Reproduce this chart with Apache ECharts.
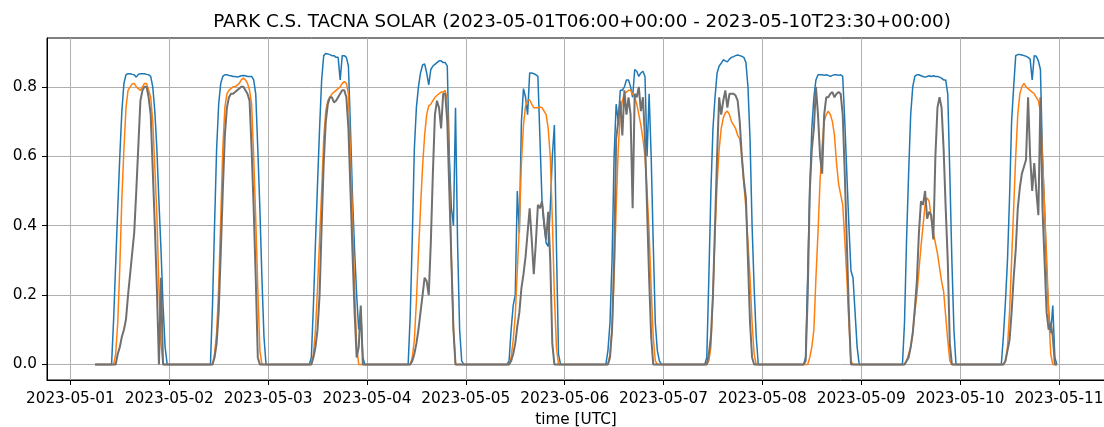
<!DOCTYPE html>
<html>
<head>
<meta charset="utf-8">
<script src="https://cdn.jsdelivr.net/npm/echarts@6/dist/echarts.min.js"></script>
<style>
  html, body { margin: 0; padding: 0; background: #fff; }
  #chart { width: 1104px; height: 427px; }
</style>
</head>
<body>
<div id="chart"></div>
<script>
// half-hourly values from 10:00 to 23:30 UTC for each day (2023-05-01 .. 2023-05-10)
// outside that window every series sits at 0
const firstHour = 10;

const potential = [
  [0,.13,.29,.45,.60,.73,.81,.835,.838,.838,.836,.835,.828,.836,.838,.838,.838,.836,.835,.83,.80,.73,.62,.47,.33,.17,.05,0],
  [0,.17,.40,.62,.75,.81,.83,.835,.835,.833,.832,.83,.83,.828,.83,.832,.833,.832,.83,.83,.83,.82,.78,.62,.45,.25,.08,0],
  [0,.02,.17,.35,.52,.68,.82,.89,.896,.895,.893,.89,.89,.885,.885,.82,.89,.89,.885,.86,.68,.48,.33,.2,.1,.16,.02,0],
  [0,.14,.36,.62,.74,.80,.84,.863,.866,.84,.806,.85,.86,.865,.87,.875,.875,.87,.87,.86,.6,.45,.4,.74,.35,.1,.01,0],
  [0,.01,.1,.17,.2,.5,.38,.7,.795,.77,.72,.84,.84,.838,.835,.83,.65,.47,.4,.35,.34,.45,.6,.69,.34,.03,0,0],
  [0,.04,.12,.3,.6,.75,.7,.79,.79,.8,.82,.82,.8,.77,.85,.845,.83,.84,.845,.83,.6,.78,.6,.35,.12,.04,.01,0],
  [0,.02,.25,.5,.68,.77,.84,.86,.868,.878,.875,.872,.88,.885,.887,.89,.892,.89,.888,.885,.87,.8,.65,.4,.22,.08,0,0],
  [0,.02,.26,.5,.68,.77,.82,.835,.835,.835,.833,.835,.833,.83,.833,.835,.835,.833,.835,.83,.7,.55,.4,.27,.25,.15,.05,0],
  [0,.12,.36,.55,.72,.8,.83,.835,.835,.832,.83,.828,.83,.832,.83,.832,.83,.83,.828,.825,.82,.82,.78,.55,.3,.1,0,0],
  [0,.08,.18,.3,.48,.7,.8,.89,.893,.893,.892,.89,.888,.885,.88,.82,.89,.888,.875,.85,.6,.45,.27,.15,.09,.17,.02,0]
];

const forecast = [
  [0,0,.03,.12,.28,.48,.62,.74,.79,.80,.808,.81,.80,.795,.79,.80,.81,.81,.79,.77,.70,.57,.43,.22,.06,0,0,0],
  [0,0,.03,.09,.22,.42,.62,.74,.78,.79,.795,.80,.80,.805,.81,.82,.825,.82,.81,.79,.75,.6,.42,.22,.04,0,0,0],
  [0,0,.03,.1,.22,.36,.5,.65,.73,.76,.77,.78,.785,.79,.795,.80,.81,.815,.81,.78,.6,.42,.22,.05,0,0,0,0],
  [0,0,.02,.07,.18,.32,.45,.57,.66,.72,.745,.75,.76,.77,.775,.78,.785,.785,.79,.76,.55,.3,.1,0,0,0,0,0],
  [0,0,.02,.07,.14,.27,.4,.58,.69,.745,.76,.763,.75,.74,.74,.74,.742,.74,.73,.72,.68,.6,.42,.2,.05,0,0,0],
  [0,0,.03,.1,.25,.45,.62,.72,.76,.78,.785,.79,.79,.78,.77,.75,.72,.69,.65,.6,.5,.38,.22,.08,.01,0,0,0],
  [0,0,.01,.05,.2,.38,.52,.62,.68,.71,.725,.73,.72,.70,.69,.68,.66,.65,.6,.52,.45,.35,.25,.12,.03,0,0,0],
  [0,0,0,.02,.05,.1,.25,.38,.53,.63,.7,.72,.73,.72,.7,.66,.58,.52,.49,.46,.36,.25,.12,.01,0,0,0,0],
  [0,0,.01,.03,.05,.09,.15,.2,.27,.34,.4,.46,.48,.47,.42,.38,.35,.32,.28,.24,.21,.14,.07,.01,0,0,0,0],
  [0,0,.01,.05,.15,.3,.45,.6,.72,.78,.8,.81,.80,.795,.79,.785,.78,.77,.76,.73,.6,.45,.31,.15,.03,0,0,0]
];

const actual = [
  [0,0,0,.03,.05,.08,.1,.13,.2,.26,.32,.38,.5,.63,.76,.79,.80,.80,.77,.72,.56,.40,.22,0,.25,0,0,0],
  [0,0,.02,.06,.15,.32,.50,.66,.74,.77,.78,.78,.785,.79,.795,.80,.80,.79,.78,.76,.62,.45,.25,.02,0,0,0,0],
  [0,0,.02,.05,.10,.2,.4,.58,.70,.75,.77,.77,.755,.76,.77,.78,.79,.79,.77,.68,.5,.32,.15,.02,.05,.17,0,0],
  [0,0,.01,.03,.06,.1,.15,.2,.25,.24,.2,.35,.55,.72,.76,.74,.68,.78,.78,.7,.5,.3,.1,0,0,0,0,0],
  [0,0,.01,.03,.06,.11,.15,.22,.26,.31,.38,.45,.36,.26,.35,.46,.45,.47,.41,.36,.44,.3,.06,0,0,0,0,0],
  [0,0,.02,.1,.3,.65,.7,.76,.66,.79,.72,.77,.72,.45,.78,.77,.80,.73,.77,.65,.45,.25,.08,0,0,0,0,0],
  [0,0,.03,.08,.2,.4,.6,.77,.72,.76,.79,.74,.78,.78,.78,.775,.76,.7,.6,.53,.48,.3,.12,.02,0,0,0,0],
  [0,.01,.2,.5,.62,.68,.8,.72,.6,.55,.72,.77,.77,.78,.785,.77,.78,.785,.78,.72,.55,.35,.15,0,0,0,0,0],
  [0,0,.01,.02,.05,.09,.16,.24,.38,.47,.46,.5,.42,.44,.43,.36,.6,.74,.77,.74,.62,.45,.3,.06,0,0,0,0],
  [0,0,.01,.04,.07,.15,.25,.33,.45,.51,.55,.57,.59,.77,.6,.5,.58,.5,.43,.77,.45,.3,.15,.1,.12,.08,0,0]
];

const dayTicks = ['2023-05-01','2023-05-02','2023-05-03','2023-05-04','2023-05-05','2023-05-06',
                  '2023-05-07','2023-05-08','2023-05-09','2023-05-10','2023-05-11'];
const yTicks = [0, 0.2, 0.4, 0.6, 0.8];

const HOUR = 3600 * 1000;
const day0 = Date.UTC(2023, 4, 1);
const tStart = Date.UTC(2023, 4, 1, 6, 0);
const tEnd = Date.UTC(2023, 4, 10, 23, 30);

function buildSeries(days) {
    var out = [];
    for (var t = tStart; t <= tEnd; t += HOUR / 2) {
        var d = Math.floor((t - day0) / (24 * HOUR));
        var h = (t - day0 - d * 24 * HOUR) / HOUR;
        var i = Math.round((h - firstHour) * 2);
        var v = (i >= 0 && i < days[d].length) ? days[d][i] : 0;
        out.push([t, v]);
    }
    return out;
}

// matplotlib-like 5% margins
var span = tEnd - tStart;
var xMin = tStart - 0.05 * span;
var xMax = tEnd + 0.05 * span;
var yMax = 0.896;

var tickTimes = dayTicks.map(function (s) { return Date.parse(s + 'T00:00:00Z'); });

var font = 'DejaVu Sans';
var chart = echarts.init(document.getElementById('chart'), null, { renderer: 'canvas' });

chart.setOption({
    animation: false,
    backgroundColor: '#fff',
    textStyle: { fontFamily: font },
    graphic: [{
        type: 'text',
        x: 582, y: 22,
        style: {
            text: 'PARK C.S. TACNA SOLAR (2023-05-01T06:00+00:00 - 2023-05-10T23:30+00:00)',
            fill: '#000',
            font: '18.3px "DejaVu Sans"',
            align: 'center',
            verticalAlign: 'middle'
        }
    }],
    grid: {
        left: 47, right: -1, top: 38, bottom: 47,
        show: true, borderColor: '#000', borderWidth: 1,
        outerBoundsMode: 'none'
    },
    xAxis: {
        type: 'value',
        min: xMin, max: xMax,
        name: 'time [UTC]',
        nameLocation: 'middle',
        nameGap: 33,
        nameTextStyle: { fontSize: 15.3, color: '#000', fontFamily: font },
        axisLine: { onZero: false, lineStyle: { color: '#000', width: 1 } },
        axisTick: { customValues: tickTimes, length: 5, lineStyle: { color: '#000', width: 1 } },
        axisLabel: {
            customValues: tickTimes, margin: 12, fontSize: 15.3, color: '#000', fontFamily: font,
            formatter: function (v) { return new Date(v).toISOString().slice(0, 10); }
        },
        splitLine: { show: true, lineStyle: { color: '#b0b0b0', width: 1 } }
    },
    yAxis: {
        type: 'value',
        min: -0.05 * yMax, max: 1.05 * yMax,
        axisLine: { show: true, lineStyle: { color: '#000', width: 1 } },
        axisTick: { show: true, customValues: yTicks, length: 5, lineStyle: { color: '#000', width: 1 } },
        axisLabel: {
            customValues: yTicks, margin: 10, fontSize: 15.3, color: '#000', fontFamily: font,
            formatter: function (v) { return v.toFixed(1); }
        },
        splitLine: { show: true, lineStyle: { color: '#b0b0b0', width: 1 } }
    },
    series: [
        { name: 'potential', type: 'line', data: buildSeries(potential), showSymbol: false,
          lineStyle: { color: '#1f77b4', width: 1.5 }, itemStyle: { color: '#1f77b4' } },
        { name: 'forecast', type: 'line', data: buildSeries(forecast), showSymbol: false,
          lineStyle: { color: '#ff7f0e', width: 1.5 }, itemStyle: { color: '#ff7f0e' } },
        { name: 'actual', type: 'line', data: buildSeries(actual), showSymbol: false,
          lineStyle: { color: '#707070', width: 2 }, itemStyle: { color: '#707070' } }
    ]
});
</script>
</body>
</html>
